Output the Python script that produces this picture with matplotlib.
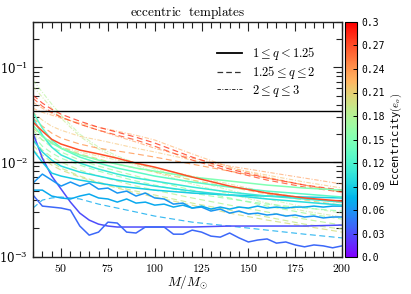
import numpy as np
import matplotlib
matplotlib.use('Agg')
import matplotlib.pyplot as plt
import matplotlib as mpl
from matplotlib.ticker import MultipleLocator, FuncFormatter, LogLocator, NullFormatter

plt.rcParams['mathtext.fontset'] = 'cm'
plt.rcParams['font.family'] = ['DejaVu Serif']

# ---------------- data ----------------
M_S = [35, 40, 45, 50, 60, 70, 80, 90, 100, 120, 140, 160, 180, 200]
M_J = list(range(35, 201, 5))
M_1 = [35, 40, 45, 50, 55, 60, 65, 70, 75, 80, 90, 100, 120, 140, 160, 180, 200]

# solid: 1 <= q < 1.25
s1 = [0.0202, 0.0110, 0.00713, 0.00520, 0.00379, 0.00290, 0.00245, 0.00222, 0.00212,
      0.00207, 0.00207, 0.00207, 0.00207, 0.00212, 0.00212, 0.00212, 0.00217]
s2 = [0.00450, 0.00344, 0.00336, 0.00328, 0.00312, 0.00212, 0.00170, 0.00183, 0.00233,
      0.00228, 0.00183, 0.00179, 0.00207, 0.00207, 0.00207, 0.00174, 0.00174, 0.00192,
      0.00183, 0.00166, 0.00162, 0.00179, 0.00159, 0.00144, 0.00151, 0.00155, 0.00140,
      0.00144, 0.00134, 0.00128, 0.00134, 0.00131, 0.00125, 0.00131]
s3 = [0.00602, 0.00748, 0.00647, 0.00559, 0.00617, 0.00559, 0.00602, 0.00520, 0.00533,
      0.00472, 0.00495, 0.00439, 0.00472, 0.00419, 0.00409, 0.00361, 0.00370, 0.00328,
      0.00336, 0.00305, 0.00320, 0.00290, 0.00305, 0.00284, 0.00290, 0.00277, 0.00284,
      0.00270, 0.00277, 0.00264, 0.00270, 0.00258, 0.00264, 0.00264]
s4 = [0.00507, 0.00507, 0.00439, 0.00419, 0.00409, 0.00439, 0.00461, 0.00419, 0.00409,
      0.00379, 0.00409, 0.00370, 0.00379, 0.00352, 0.00361, 0.00336, 0.00352, 0.00328,
      0.00344, 0.00320, 0.00336, 0.00320, 0.00336, 0.00328, 0.00344, 0.00328, 0.00336,
      0.00328, 0.00336, 0.00336, 0.00344, 0.00336, 0.00344, 0.00344]
s5 = [0.0134, 0.00999, 0.00766, 0.00713, 0.00647, 0.00602, 0.00559, 0.00533, 0.00507,
      0.00472, 0.00450, 0.00439, 0.00429, 0.00419]
c4 = [0.0171, 0.0128, 0.0105, 0.00908, 0.00785, 0.00713, 0.00647, 0.00602, 0.00559,
      0.00495, 0.00450, 0.00409, 0.00379, 0.00352]
c2 = [0.0291, 0.0192, 0.0144, 0.0119, 0.00976, 0.00845, 0.00748, 0.00679, 0.00632,
      0.00546, 0.00483, 0.00439, 0.00409, 0.00379]
c1 = [0.0335, 0.0228, 0.0171, 0.0140, 0.0113, 0.00976, 0.00865, 0.00785, 0.00713,
      0.00617, 0.00546, 0.00495, 0.00461, 0.00429]
c3 = [0.0245, 0.0187, 0.0159, 0.0140, 0.0119, 0.0105, 0.00952, 0.00865, 0.00804,
      0.00696, 0.00632, 0.00573, 0.00533, 0.00507]
r1 = [0.0264, 0.0212, 0.0174, 0.0155, 0.0134, 0.0122, 0.0110, 0.00976, 0.00886,
      0.00696, 0.00559, 0.00472, 0.00419, 0.00388]

# dashed: 1.25 <= q <= 2
d1 = [0.0507, 0.0419, 0.0361, 0.0320, 0.0270, 0.0233, 0.0207, 0.0183, 0.0159,
      0.0113, 0.00845, 0.00679, 0.00573, 0.00507]
d2 = [0.0472, 0.0388, 0.0335, 0.0298, 0.0251, 0.0217, 0.0192, 0.0171, 0.0147,
      0.0105, 0.00804, 0.00647, 0.00546, 0.00483]
d3 = [0.00328, 0.00398, 0.00419, 0.00429, 0.00409, 0.00361, 0.00328, 0.00298, 0.00270,
      0.00233, 0.00212, 0.00192, 0.00174, 0.00159]
g1 = [0.0217, 0.0171, 0.0144, 0.0128, 0.0105, 0.00908, 0.00804, 0.00713, 0.00632,
      0.00507, 0.00419, 0.00344, 0.00290, 0.00251]
g2 = [0.0171, 0.0134, 0.0113, 0.00999, 0.00824, 0.00713, 0.00632, 0.00559, 0.00507,
      0.00419, 0.00352, 0.00298, 0.00251, 0.00217]
g3 = [0.0151, 0.0119, 0.00999, 0.00865, 0.00713, 0.00617, 0.00546, 0.00495, 0.00450,
      0.00370, 0.00312, 0.00264, 0.00222, 0.00197]
g4 = [0.0134, 0.0110, 0.00930, 0.00824, 0.00696, 0.00602, 0.00533, 0.00472, 0.00429,
      0.00352, 0.00290, 0.00245, 0.00212, 0.00183]
g5 = [0.0192, 0.0147, 0.0125, 0.0110, 0.00930, 0.00804, 0.00713, 0.00632, 0.00573,
      0.00472, 0.00409, 0.00361, 0.00328, 0.00305]
o1 = [0.0291, 0.0239, 0.0202, 0.0179, 0.0155, 0.0140, 0.0131, 0.0122, 0.0113,
      0.00952, 0.00804, 0.00679, 0.00573, 0.00483]
y1 = [0.0228, 0.0187, 0.0163, 0.0144, 0.0122, 0.0108, 0.00952, 0.00865, 0.00785,
      0.00647, 0.00546, 0.00461, 0.00398, 0.00352]

# dash-dot: 2 <= q <= 3
dd1 = [0.0729, 0.0546, 0.0409, 0.0313, 0.0197, 0.0144, 0.0116, 0.00976, 0.00845,
       0.00647, 0.00507, 0.00409, 0.00336, 0.00290]
dd2 = [0.0632, 0.0483, 0.0370, 0.0291, 0.0187, 0.0137, 0.0110, 0.00930, 0.00785,
       0.00588, 0.00461, 0.00370, 0.00305, 0.00264]
dd3 = [0.0370, 0.0335, 0.0313, 0.0291, 0.0258, 0.0233, 0.0212, 0.0192, 0.0171,
       0.0122, 0.00886, 0.00696, 0.00573, 0.00495]
dd4 = [0.0335, 0.0277, 0.0239, 0.0217, 0.0187, 0.0171, 0.0155, 0.0140, 0.0128,
       0.0105, 0.00865, 0.00730, 0.00617, 0.00533]
dd5 = [0.0192, 0.0171, 0.0155, 0.0144, 0.0128, 0.0116, 0.0105, 0.00952, 0.00865,
       0.00713, 0.00588, 0.00483, 0.00419, 0.00370]
dd6 = [0.0429, 0.0370, 0.0328, 0.0298, 0.0251, 0.0217, 0.0187, 0.0163, 0.0140,
       0.0110, 0.00908, 0.00785, 0.00679, 0.00588]

# (mass grid, values, eccentricity, group)
curves = [
    (M_S, dd1, 0.18, 'dd'), (M_S, dd2, 0.19, 'dd'), (M_S, dd3, 0.23, 'dd'),
    (M_S, dd4, 0.22, 'dd'), (M_S, dd5, 0.20, 'dd'), (M_S, dd6, 0.24, 'dd'),
    (M_S, g1, 0.17, 'd'), (M_S, g2, 0.18, 'd'), (M_S, g3, 0.19, 'd'),
    (M_S, g4, 0.20, 'd'), (M_S, g5, 0.16, 'd'),
    (M_S, o1, 0.24, 'd'), (M_S, y1, 0.21, 'd'), (M_S, d3, 0.07, 'd'),
    (M_S, d1, 0.28, 'd'), (M_S, d2, 0.27, 'd'),
    (M_1, s1, 0.03, 's'), (M_J, s2, 0.04, 's'), (M_J, s3, 0.06, 's'),
    (M_J, s4, 0.07, 's'), (M_S, s5, 0.09, 's'), (M_S, c4, 0.10, 's'),
    (M_S, c2, 0.11, 's'), (M_S, c1, 0.13, 's'), (M_S, c3, 0.15, 's'),
    (M_S, r1, 0.27, 's'),
]
hlines = [0.035, 0.01]
legend_labels = [r'$1 \leq q < 1.25$', r'$1.25 \leq q \leq 2$', r'$2 \leq q \leq 3$']
cbar_ticks = [0.0, 0.03, 0.06, 0.09, 0.12, 0.15, 0.18, 0.21, 0.24, 0.27, 0.3]
cbar_labels = ['0.0', '0.03', '0.06', '0.09', '0.12', '0.15', '0.18', '0.21', '0.24', '0.27', '0.3']
xticks = [50, 75, 100, 125, 150, 175, 200]

# ---------------- plot ----------------
W, H = 411, 294
fig = plt.figure(figsize=(W / 100, H / 100), dpi=100)
ax = fig.add_axes([33 / W, 37 / H, 309 / W, 235 / H])
cmap = plt.get_cmap('rainbow')
norm = mpl.colors.Normalize(vmin=0.0, vmax=0.3)

styles = {
    's': dict(ls='-', lw=1.1, alpha=1.0),
    'd': dict(ls=(0, (5, 3)), lw=0.85, alpha=0.8),
    'dd': dict(ls=(0, (4, 1.5, 1, 1.5)), lw=0.8, alpha=0.6),
}
for m, v, e, grp in curves:
    ax.plot(m, v, color=cmap(norm(e)), **styles[grp])

for h in hlines:
    ax.axhline(h, color='black', lw=1.0)

ax.set_yscale('log')
ax.set_xlim(35, 200)
ax.set_ylim(1e-3, 0.3)

ax.xaxis.set_major_locator(mpl.ticker.FixedLocator(xticks))
ax.xaxis.set_minor_locator(MultipleLocator(5))
ax.xaxis.set_major_formatter(FuncFormatter(lambda x, p: r'$%d$' % int(round(x))))
ax.yaxis.set_major_locator(LogLocator(base=10, numticks=10))
ax.yaxis.set_minor_locator(LogLocator(base=10, subs=np.arange(2, 10), numticks=20))
ax.yaxis.set_minor_formatter(NullFormatter())
ax.tick_params(which='both', direction='in', top=True, right=True, labelsize=8.5,
               width=0.8, color='#222222')
ax.tick_params(which='major', length=6.5)
ax.tick_params(which='minor', length=4)
for sp in ax.spines.values():
    sp.set_linewidth(1.0)
    sp.set_color('#222222')

ax.set_title(r'$\mathrm{eccentric\ \ templates}$', fontsize=9.5, pad=4)
ax.set_xlabel(r'$M/M_{\odot}$', fontsize=9.5, labelpad=-1)

handles = [
    mpl.lines.Line2D([], [], color='black', ls='-', lw=1.3),
    mpl.lines.Line2D([], [], color='black', ls=(0, (4.5, 2.5)), lw=0.9, alpha=0.8),
    mpl.lines.Line2D([], [], color='black', ls=(0, (3.5, 1.5, 1, 1.5)), lw=0.7, alpha=0.8),
]
ax.legend(handles, legend_labels, loc='upper right', frameon=False, fontsize=9,
          handlelength=2.0, labelspacing=0.15, bbox_to_anchor=(0.95, 0.95))

cax = fig.add_axes([345 / W, 37 / H, 12 / W, 235 / H])
sm = mpl.cm.ScalarMappable(norm=norm, cmap=cmap)
cb = fig.colorbar(sm, cax=cax)
cb.set_ticks(cbar_ticks)
cb.set_ticklabels(cbar_labels)
cb.outline.set_linewidth(0.8)
cax.tick_params(direction='in', length=3, width=0.7, labelsize=7, pad=3)
for lab in cax.get_yticklabels():
    lab.set_family('DejaVu Sans Mono')
cb.set_label(r'Eccentricity$(e_o)$', family='DejaVu Sans Mono', fontsize=7.5, labelpad=3)

fig.savefig('out.png', dpi=100)
